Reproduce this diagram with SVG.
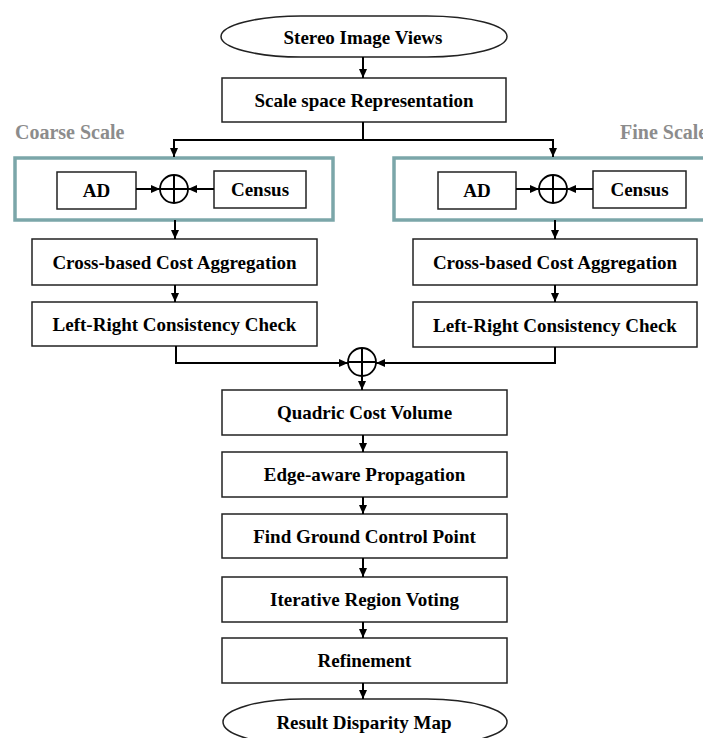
<svg xmlns="http://www.w3.org/2000/svg" width="703" height="738" viewBox="0 0 703 738">
<defs>
<marker id="ah" markerWidth="9" markerHeight="8" refX="9" refY="4" orient="auto" markerUnits="userSpaceOnUse">
<path d="M0,0 L9,4 L0,8 Z" fill="#000"/>
</marker>
<style>
.box{fill:#fff;stroke:#222;stroke-width:1.5}
.grp{fill:#fff;stroke:#7ba6a9;stroke-width:3.5}
.t{font-family:"Liberation Serif","Times New Roman",serif;font-weight:bold;font-size:19px;fill:#000;text-anchor:middle;dominant-baseline:central}
.lab{font-family:"Liberation Serif","Times New Roman",serif;font-weight:bold;font-size:20px;fill:#8c8c8c}
.c{fill:none;stroke:#000;stroke-width:2}
.ar{fill:none;stroke:#000;stroke-width:2;marker-end:url(#ah)}
.sum{fill:#fff;stroke:#000;stroke-width:1.8}
</style>
</defs>
<rect width="703" height="738" fill="#fff"/>

<text class="lab" x="15" y="139">Coarse Scale</text>
<text class="lab" x="620" y="139">Fine Scale</text>

<g id="n-stereo"><rect class="box" x="221" y="16" width="286" height="41" rx="80" ry="20.5"/><text class="t" x="363" y="37">Stereo Image Views</text></g>
<g id="n-scale"><rect class="box" x="222" y="78" width="284" height="44"/><text class="t" x="364" y="100">Scale space Representation</text></g>

<g id="n-coarse-group"><rect class="grp" x="15" y="158" width="318" height="62"/></g>
<g id="n-fine-group"><rect class="grp" x="394" y="158" width="330" height="62"/></g>

<g id="n-ad-l"><rect class="box" x="57" y="172" width="79" height="37"/><text class="t" x="96.5" y="190">AD</text></g>
<g id="n-sum-l"><circle class="sum" cx="174" cy="189" r="14"/><path class="c" d="M160,189 H188 M174,175 V203" stroke-width="1.5"/></g>
<g id="n-census-l"><rect class="box" x="214" y="171" width="92" height="37"/><text class="t" x="260" y="189">Census</text></g>

<g id="n-ad-r"><rect class="box" x="438" y="172" width="78" height="37"/><text class="t" x="477" y="190">AD</text></g>
<g id="n-sum-r"><circle class="sum" cx="553" cy="189" r="14"/><path class="c" d="M539,189 H567 M553,175 V203" stroke-width="1.5"/></g>
<g id="n-census-r"><rect class="box" x="593" y="171" width="93" height="37"/><text class="t" x="639.5" y="189">Census</text></g>

<g id="n-cross-l"><rect class="box" x="32" y="239" width="285" height="46"/><text class="t" x="174.5" y="262">Cross-based Cost Aggregation</text></g>
<g id="n-cross-r"><rect class="box" x="413" y="239" width="284" height="46"/><text class="t" x="555" y="262">Cross-based Cost Aggregation</text></g>
<g id="n-lr-l"><rect class="box" x="32" y="302" width="285" height="44"/><text class="t" x="174.5" y="324">Left-Right Consistency Check</text></g>
<g id="n-lr-r"><rect class="box" x="413" y="302" width="284" height="45"/><text class="t" x="555" y="325">Left-Right Consistency Check</text></g>

<g id="n-sum-m"><circle class="sum" cx="362" cy="362" r="14"/><path class="c" d="M348,362 H376 M362,348 V376" stroke-width="1.5"/></g>

<g id="n-quadric"><rect class="box" x="222" y="390" width="285" height="45"/><text class="t" x="364.5" y="412.5">Quadric Cost Volume</text></g>
<g id="n-edge"><rect class="box" x="222" y="452" width="285" height="45"/><text class="t" x="364.5" y="474.5">Edge-aware Propagation</text></g>
<g id="n-gcp"><rect class="box" x="222" y="514" width="285" height="44"/><text class="t" x="364.5" y="536">Find Ground Control Point</text></g>
<g id="n-irv"><rect class="box" x="222" y="577" width="285" height="45"/><text class="t" x="364.5" y="599.5">Iterative Region Voting</text></g>
<g id="n-ref"><rect class="box" x="222" y="638" width="285" height="45"/><text class="t" x="364.5" y="660.5">Refinement</text></g>
<g id="n-result"><rect class="box" x="223" y="699" width="284" height="46" rx="80" ry="23"/><text class="t" x="364" y="722">Result Disparity Map</text></g>

<g id="connectors">
<path class="ar" d="M363,57 V78"/>
<path class="c" d="M363,122 V140 M174,140 H553"/>
<path class="ar" d="M174,139 V157"/>
<path class="ar" d="M553,139 V157"/>
<path class="ar" d="M136,189 H160"/>
<path class="ar" d="M214,189 H188"/>
<path class="ar" d="M516,189 H539"/>
<path class="ar" d="M593,189 H567"/>
<path class="ar" d="M175,220 V239"/>
<path class="ar" d="M555,220 V239"/>
<path class="ar" d="M175,285 V302"/>
<path class="ar" d="M555,285 V302"/>
<path class="ar" d="M176,346 V363 H348"/>
<path class="ar" d="M555,347 V363 H376"/>
<path class="ar" d="M362,376 V390"/>
<path class="ar" d="M363,435 V452"/>
<path class="ar" d="M363,497 V514"/>
<path class="ar" d="M363,558 V577"/>
<path class="ar" d="M363,622 V638"/>
<path class="ar" d="M363,683 V699"/>
</g>
</svg>
